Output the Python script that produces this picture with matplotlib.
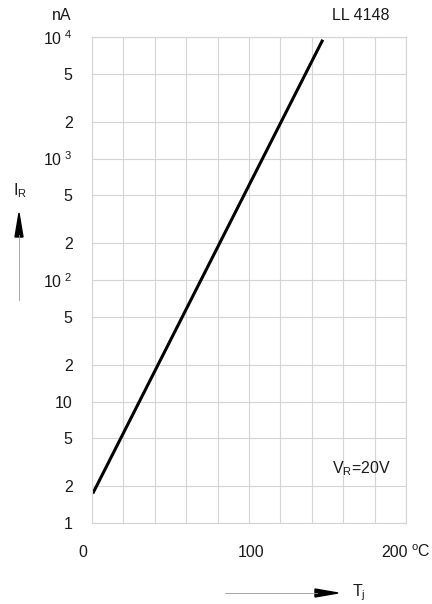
import matplotlib.pyplot as plt
import numpy as np

# datos
temperatura = [0.5, 147]        # Tj en grados C
corriente = [1.75, 9500]        # IR en nA
ticks_y = [1, 2, 5, 10, 20, 50, 100, 200, 500, 1000, 2000, 5000, 10000]
etiquetas_y = ["1", "2", "5", "10", "2", "5", "10$^{\\ 2}$", "2", "5",
               "10$^{\\ 3}$", "2", "5", "10$^{\\ 4}$"]
ticks_x = [0, 100, 200]
etiquetas_x = ["0", "100", "200"]

plt.rcParams['font.family'] = ['Liberation Sans', 'DejaVu Sans']
plt.rcParams['mathtext.fontset'] = 'custom'
plt.rcParams['mathtext.rm'] = 'Liberation Sans'

fs = 11.5
color_txt = "#1a1a1a"
fig = plt.figure(figsize=(4.32, 6.04), dpi=100)
ax = fig.add_axes([92/432, 1-523/604, 314/432, 486/604])

gris = "#d4d4d4"
ax.set_yscale("log")
ax.set_xlim(0, 200)
ax.set_ylim(1, 10000)

ax.set_xticks(np.arange(0, 201, 20))
ax.set_xticklabels([])
ax.set_yticks(ticks_y)
ax.set_yticks([], minor=True)
ax.set_yticklabels(etiquetas_y, fontsize=fs)
ax.tick_params(axis="both", length=0, pad=14, colors=color_txt)
ax.grid(True, color=gris, linewidth=0.8)
for s in ax.spines.values():
    s.set_color(gris)
    s.set_linewidth(0.8)

ax.plot(temperatura, corriente, color="black", linewidth=2.2, solid_capstyle="butt")

# etiquetas del eje x a mano (como en la hoja de datos)
for x, txt, dx in zip(ticks_x, etiquetas_x, [-6.5, 1.5, -8]):
    ax.annotate(txt, (x, 1), xytext=(dx, -21), textcoords="offset points",
                ha="center", va="center", fontsize=fs, color=color_txt,
                annotation_clip=False)
ax.annotate("$^{\\rm o}$C", (200, 1), xytext=(11, -21), textcoords="offset points",
            ha="center", va="center", fontsize=fs, color=color_txt,
            annotation_clip=False)

fig.text(62/432, 1-15/604, "nA", ha="center", va="center", fontsize=fs, color=color_txt)
fig.text(361/432, 1-15/604, "LL 4148", ha="center", va="center", fontsize=fs, color=color_txt)
fig.text(20/432, 1-191/604, "I$_{\\rm R}$", ha="center", va="center", fontsize=fs, color=color_txt)
fig.text(332/432, 1-469/604, "V$_{\\rm R}$=20V", ha="left", va="center", fontsize=fs, color=color_txt)
fig.text(352/432, 1-593/604, "T$_{\\rm j}$", ha="left", va="center", fontsize=fs, color=color_txt)

# flechas de los ejes
fig.add_artist(plt.Line2D([19/432, 19/432], [1-300/604, 1-235/604], color="#999999", linewidth=0.6))
fig.patches.append(plt.Polygon([[15/432, 1-237/604], [23/432, 1-237/604], [19/432, 1-213/604]],
                               closed=True, color="black", transform=fig.transFigure))
fig.add_artist(plt.Line2D([225/432, 317/432], [1-593/604, 1-593/604], color="#999999", linewidth=0.6))
fig.patches.append(plt.Polygon([[315/432, 1-589/604], [315/432, 1-597/604], [338/432, 1-593/604]],
                               closed=True, color="black", transform=fig.transFigure))

fig.savefig("out.png", dpi=100, facecolor="white")
